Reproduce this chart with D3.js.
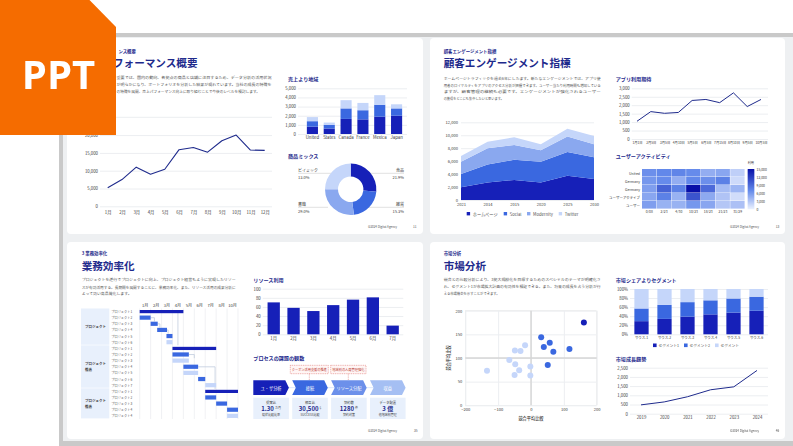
<!DOCTYPE html>
<html><head><meta charset="utf-8">
<script src="https://cdn.jsdelivr.net/npm/d3@7"></script>
<style>
html,body{margin:0;padding:0;background:#fff;overflow:hidden}
svg{display:block;filter:blur(.4px)}
text{font-family:"Noto Sans CJK JP","Noto Sans",sans-serif}
</style></head><body><div id="c"></div>
<script>
// ---------- data ----------
const monthLabels=["1月","2月","3月","4月","5月","6月","7月","8月","9月","10月","11月","12月"];
const perfValues=[5200,7500,11000,9000,10400,15900,16500,15200,18400,20000,15800,15700];
const regionLabels=["United","States","Canada","France","Mexica","Japan"];
const regionA=[800,600,1650,1600,1900,2000];
const regionB=[600,400,1150,1000,1300,800];
const regionC=[450,250,900,800,1050,450];
const mixShares=[26.5,21.5,27,25];
const mixNames=["食品","雑貨","書籍","ビイミック"];
const mixPct=["21.9%","15.3%","29.0%","13.0%"];
const trafficYears=["2021","2014","2015","2020","2025","2030"];
const trafficNames=["ホームページ","Social","Modernity","Twitter"];
const trafficA=[1950,2700,3100,2700,3750,3250];
const trafficB=[2050,2800,3100,3200,3650,3350];
const trafficC=[1900,2500,2300,1800,2400,2000];
const trafficD=[900,1000,1200,900,1200,1300];
const appLabels=["1月1日","2月5日","3月5日","4月10日","5月5日","6月5日","7月15日","8月10日","9月5日","10月5日"];
const appValues=[1050,1620,1520,1570,2280,2340,2150,2730,1920,2340];
const heatRows=["United","Germany","Germany","ユーザーアクティブ","ユーザー"];
const heatCols=["0/08","2/23","4/30","10/23","18/23","21/23","31/29"];
const heatValues=[[6500,7000,7200,6800,4500,5000,2200],[6000,6800,4500,7000,6500,7500,1500],[5500,9500,7500,15000,9000,3500,4000],[5000,7500,4200,10500,4800,3000,1300],[5500,4200,4200,6000,5000,2800,3200]];
const heatTicks=[0,3000,6000,9000,12000,15000];
const ganttMonths=["1月","2月","3月","4月","5月","6月","7月","8月","10月"];
const ganttRowLabels=["プロジェクト1","プロジェクト2","プロジェクト3","プロジェクト4","プロジェクト5","プロジェクト6","プロジェクト1","プロジェクト2","プロジェクト3","プロジェクト4","プロジェクト5","プロジェクト6","プロジェクト7","プロジェクト1","プロジェクト2","プロジェクト3","プロジェクト4","プロジェクト4"];
const ganttStart=[0,0,1,1.6,2.45,2.45,3,3,3,4,4,5.35,6,6,6,7,8,8];
const ganttEnd=[4,1,1.65,2.5,3,3,7,4.5,4.5,5.35,5.35,6,7,9,7,8,9,9];
const ganttKind=[0,1,1,1,1,2,0,1,2,1,2,1,2,0,1,1,1,2];
const ganttGroupNames=[["プロジェクト"],["プロジェクト","推進"],["プロジェクト","推進"]];
const ganttGroupFrom=[0,6,13];
const ganttGroupTo=[5,12,17];
const linkFromRow=[1,2,3,7,9];
const linkToRow=[2,3,4,8,13];
const linkMidMonth=[1.35,1.85,2.6,5,6.9];
const resourceLabels=["1月","2月","3月","4月","5月","6月","7月"];
const resourceValues=[70,58,51,64,76,81,19];
const processSteps=["ユ・ザ分析","接続","リソース分配","収益"];
const processTop=["提案比","相互比","契約数","データ配置"];
const processBig=["1.30","30,500","1280","3 億"];
const processUnit=["カ月","$","件",""];
const processBottom=["現状比較比率","SUCCESS比較","契約対策","他地域別管理"];
const callouts=["クーポン活用支援の推進","地域別の人員管理強化"];
const scatterDark=[[161,175]];
const scatterMid=[[31,144],[57,132],[39,123],[68,113],[117,119],[51,85]];
const scatterLight=[[-18,127],[-49,116],[-32,115],[-66,96],[-48,87],[-36,74],[-50,64],[-2,82],[-2,63],[-134,73]];
const shareLabels=["サウス-1","サウス-2","サウス-3","サウス-4","サウス-5","サウス-6"];
const shareNames=["セグメント1","セグメント2","セグメント"];
const shareA=[29,34,39,44,48,52];
const shareB=[28,31,32,31,31,31];
const shareC=[43,35,29,25,21,17];
const growthYears=["2019","2020","2021","2022","2023","2024"];
const growthValues=[480,640,920,1300,1460,2350];

// ---------- style ----------
const C0="#1620b8",C1="#3a68e0",C2="#8aa8ef",C3="#c5d6fa",NAVY="#1e2a8c",TXT="#3a3a3a",GRID="#eceef1";
const svg=d3.select("#c").append("svg").attr("width",793).attr("height",446).attr("viewBox","0 0 793 446");

function T(x,y,s,o={}){
  const t=svg.append("text").attr("x",x).attr("y",y).attr("dominant-baseline","central")
    .attr("font-size",o.size||4).attr("font-weight",o.w||400).attr("fill",o.c||TXT)
    .attr("text-anchor",o.a||"start").text(s);
  if(o.len)t.attr("textLength",o.len).attr("lengthAdjust","spacingAndGlyphs");
  return t;
}
function yAxis(y,x0,x1,vals,fmt){
  const g=svg.append("g").attr("transform",`translate(${x0},0)`)
    .call(d3.axisLeft(y).tickValues(vals).tickSize(-(x1-x0)).tickPadding(2).tickFormat(fmt||d3.format(",")));
  g.select(".domain").remove();
  g.selectAll(".tick line").attr("stroke",GRID).attr("stroke-width",1);
  g.selectAll(".tick text").attr("font-size",4.3).attr("fill",TXT).style("font-family",'"Noto Sans CJK JP"');
  return g;
}
function xAxis(x,yy,vals,pad){
  const g=svg.append("g").attr("transform",`translate(0,${yy})`)
    .call(d3.axisBottom(x).tickValues(vals).tickSize(0).tickPadding(pad));
  g.select(".domain").remove();
  g.selectAll(".tick text").attr("font-size",4.3).attr("fill",TXT).style("font-family",'"Noto Sans CJK JP"');
  return g;
}
function linePath(data,x,y,keys,w){
  svg.append("path").datum(data).attr("fill","none").attr("stroke",NAVY).attr("stroke-width",w||1.1)
    .attr("stroke-linejoin","round")
    .attr("d",d3.line().x((d,i)=>x(keys[i])).y(d=>y(d)));
}
function stackBars(cats,series,colors,x,y){
  const rows=cats.map((c,i)=>{const r={c};series.forEach((s,k)=>r[k]=s[i]);return r;});
  const st=d3.stack().keys(series.map((s,k)=>k))(rows);
  svg.append("g").selectAll("g").data(st).join("g").attr("fill",(d,i)=>colors[i])
    .selectAll("rect").data(d=>d).join("rect")
    .attr("x",d=>x(d.data.c)).attr("width",x.bandwidth())
    .attr("y",d=>y(d[1])).attr("height",d=>y(d[0])-y(d[1]));
}
function head(x,small,title,ySmall,yTitle,xTitle){
  T(x,ySmall,small,{size:4.4,w:700,c:NAVY});
  T(xTitle===undefined?x:xTitle,yTitle,title,{size:10.6,w:700,c:NAVY});
}
function h2(x,y,s){T(x,y,s,{size:5.1,w:700,c:NAVY});}
function para(x,ys,lines,lens){lines.forEach((l,i)=>T(x,ys[i],l,{size:3.8,c:"#555",len:lens[i]}));}
function foot(x,nx,y,n){T(x,y,"©2024 Digital Agency",{size:3.2,c:"#555",len:29});T(nx,y,n,{size:3.2,c:"#555"});}

// ---------- frame ----------
svg.append("rect").attr("x",59).attr("y",33).attr("width",734).attr("height",413).attr("fill","#c9c9c9");
svg.append("rect").attr("x",63).attr("y",37).attr("width",730).attr("height",404).attr("fill","#eef0f2");
[[67,38,356,196],[430,38,355,196],[67,242,356,197],[430,242,355,197]].forEach(r=>
  svg.append("rect").attr("x",r[0]).attr("y",r[1]).attr("width",r[2]).attr("height",r[3]).attr("rx",4).attr("fill","#fff"));

// ---------- slide 1 (the badge covers the left of its heading and text) ----------
head(118.4,"ンス概要","フォーマンス概要",50.8,62.7,113);
para(116.5,[77.3,84.3,91.3],["重要では、国内の動向、各拠点の商品と店舗に注目するため、データ分析の活用状況","が明らかになり、ポートフォリオを分析した結果が現れています。当社の成長の特徴を","の特徴を展開、売上パフォーマンス向上に取り組むことで今後のレベルを検討します。"],[155,155,143.5]);
const p1x=d3.scalePoint().domain(monthLabels).range([107.7,264.7]);
const p1y=d3.scaleLinear().domain([0,25000]).range([206.3,117.3]);
yAxis(p1y,100,272,[0,5000,10000,15000,20000]);
svg.append("line").attr("x1",116).attr("x2",272).attr("y1",p1y(25000)).attr("y2",p1y(25000)).attr("stroke",GRID);
xAxis(p1x,206.3,monthLabels,4.2);
linePath(perfValues,p1x,p1y,monthLabels,1.1);

h2(288,78.3,"売上より地域");
const p1bx=d3.scaleBand().domain(regionLabels).range([304,405]).paddingInner(.34).paddingOuter(.17);
const p1by=d3.scaleLinear().domain([0,5000]).range([134,88.3]);
yAxis(p1by,298,407,[0,1000,2000,3000,4000,5000]);
stackBars(regionLabels,[regionA,regionB,regionC],[C0,C1,C3],p1bx,p1by);
xAxis(p1bx,134,regionLabels,2.2);

h2(288,155.3,"商品ミックス");
const lblX=[404,404,298,298],lblY=[170,204,204,170],lblA=["end","end","start","start"],lblEnd=[368,368,328,335];
mixNames.forEach((n,i)=>{
  T(lblX[i],lblY[i],n,{size:4,a:lblA[i]});
  T(lblX[i],lblY[i]+6.6,mixPct[i],{size:4,a:lblA[i]});
  svg.append("line").attr("x1",lblX[i]).attr("x2",lblEnd[i]).attr("y1",lblY[i]+3.3).attr("y2",lblY[i]+3.3).attr("stroke","#ccc").attr("stroke-width",.6);
});
const pie=d3.pie().sort(null).value(d=>d)(mixShares);
const arc=d3.arc().innerRadius(12.7).outerRadius(25.7);
const dc=svg.append("g").attr("transform","translate(350.7,189.3)");
dc.selectAll("path").data(pie).join("path").attr("d",arc).attr("fill",(d,i)=>[C0,C1,C2,C3][i]);
foot(368,413,226.7,"11");

// ---------- slide 2 ----------
head(443.7,"顧客エンゲージメント指標","顧客エンゲージメント指標",50.8,62.7);
para(443.7,[78.3,85,91.7,98.3],["ホームページトラフィックを過去6年にしたます。新たなエンゲージメントでは、アプリ使","用者のロイヤルティをアプリのアクセス分析が把握できます。ユーザー当たり利用時間も増加している","ますが、顧客管理の継続も必要です。エンゲージメントが強化されるユーザー","の獲得をどこにも集中したいと思います。"],[157,157,157,60]);
const p2ax=d3.scalePoint().domain(trafficYears).range([461,594]);
const p2ay=d3.scaleLinear().domain([0,12000]).range([200,122.3]);
const g2=yAxis(p2ay,461,594,[0,2000,4000,6000,8000,10000,12000]);
g2.selectAll(".tick text").attr("x",-3).attr("font-size",4.1);
const trafficRows=trafficYears.map((c,i)=>({c,a:trafficA[i],b:trafficB[i],c2:trafficC[i],d:trafficD[i]}));
const trafficStack=d3.stack().keys(["a","b","c2","d"])(trafficRows);
svg.append("g").selectAll("path").data(trafficStack).join("path").attr("fill",(d,i)=>[C0,C1,C2,C3][i])
  .attr("d",d3.area().x(d=>p2ax(d.data.c)).y0(d=>p2ay(d[0])).y1(d=>p2ay(d[1])));
xAxis(p2ax,200,trafficYears,2.6).selectAll("text").attr("font-size",4.1);
const lgX=[466.7,503.7,527,558.7];
trafficNames.forEach((n,i)=>{
  svg.append("rect").attr("x",lgX[i]).attr("y",212).attr("width",3.4).attr("height",3.4).attr("fill",[C0,C1,C2,C3][i]);
  T(lgX[i]+6,213.7,n,{size:4.2,c:"#555"});
});

h2(615.7,78.3,"アプリ利用期待");
const p2lx=d3.scalePoint().domain(appLabels).range([637,761]);
const p2ly=d3.scaleLinear().domain([0,3000]).range([139,88.3]);
yAxis(p2ly,631.7,768,[0,500,1000,1500,2000,2500,3000]);
xAxis(p2lx,139,appLabels,2.6).selectAll("text").attr("font-size",3.3);
linePath(appValues,p2lx,p2ly,appLabels,1);

h2(615.7,155.7,"ユーザーアクティビティ");
const hx=d3.scaleBand().domain(heatCols).range([642,745]);
const hy=d3.scaleBand().domain(d3.range(5)).range([169,209]);
const hc=d3.scaleLinear().domain([0,7000,15000]).range(["#eaf0fe","#6288ea","#0810a8"]);
heatValues.forEach((row,r)=>row.forEach((v,c)=>{
  svg.append("rect").attr("x",hx(heatCols[c])).attr("y",hy(r)).attr("width",hx.bandwidth()-.4).attr("height",hy.bandwidth()-.4).attr("fill",hc(v));
}));
heatRows.forEach((n,r)=>T(640,hy(r)+hy.bandwidth()/2,n,{size:3.5,a:"end"}));
xAxis(hx,209,heatCols,1.6).selectAll("text").attr("font-size",3.4);
const hly=d3.scaleLinear().domain([0,15000]).range([209,169]);
d3.range(40).forEach(i=>{
  svg.append("rect").attr("x",747.7).attr("width",6.6).attr("y",169+i).attr("height",1.2).attr("fill",hc(hly.invert(169+i+.5)));
});
heatTicks.forEach(t=>T(756.5,hly(t),d3.format(",")(t),{size:3.4}));
T(747.7,162,"利用",{size:3.2});
foot(730,775.7,226.7,"13");

// ---------- slide 3 ----------
head(81.7,"3 業務効率化","業務効率化",253.2,265);
para(81.7,[279.7,287,293.7],["プロジェクトを遂行でプロジェクトに向上、プロジェクト経営もように実現したリソー","スが有効活用する。長期間を展開することに、業務効率化、また、リソース活用の成果分析に","よって効い高品質化します。"],[154,154,50]);
const gx=d3.scaleLinear().domain([0,9]).range([139.7,238]);
const gy=d3.scaleBand().domain(d3.range(18)).range([308.5,419]);
svg.append("g").selectAll("line").data(d3.range(10)).join("line")
  .attr("x1",d=>gx(d)).attr("x2",d=>gx(d)).attr("y1",308.5).attr("y2",419).attr("stroke","#e6e8ec").attr("stroke-width",.6);
ganttMonths.forEach((m,i)=>T(gx(i+.5),304.7,m,{size:4.1,a:"middle"}));
ganttGroupNames.forEach((g,i)=>{
  const y0=gy(ganttGroupFrom[i]),y1=gy(ganttGroupTo[i])+gy.bandwidth()-.6;
  svg.append("rect").attr("x",81).attr("y",y0).attr("width",28.3).attr("height",y1-y0).attr("fill","#e8f0fc");
  g.forEach((s,k)=>T(85,(y0+y1)/2+(k-(g.length-1)/2)*5.4,s,{size:3.5,w:700,c:"#444"}));
});
ganttRowLabels.forEach((s,i)=>T(111.3,gy(i)+gy.bandwidth()/2,s,{size:3.2,c:"#555"}));
linkFromRow.forEach((f,i)=>{
  const yA=gy(f)+gy.bandwidth()/2,yB=gy(linkToRow[i])+.6,xA=gx(ganttEnd[f]),xM=gx(linkMidMonth[i]);
  svg.append("path").attr("fill","none").attr("stroke","#b9c6da").attr("stroke-width",.7).attr("d",`M${xA},${yA}H${xM}V${yB}`);
});
svg.append("line").attr("x1",gx(3.5)).attr("x2",gx(3.5)).attr("y1",gy(0)+4).attr("y2",gy(6)).attr("stroke","#b9c6da").attr("stroke-width",.7);
ganttStart.forEach((s,i)=>{
  svg.append("rect").attr("x",gx(s)).attr("width",gx(ganttEnd[i])-gx(s))
    .attr("y",gy(i)+(ganttKind[i]==0?1.5:.9)).attr("height",ganttKind[i]==0?3.2:4.2).attr("fill",[C0,C1,C3][ganttKind[i]]);
});

h2(253.3,279.7,"リソース利用");
const rx=d3.scaleBand().domain(resourceLabels).range([263.8,402.6]).paddingInner(.38).paddingOuter(.19);
const ry=d3.scaleLinear().domain([0,100]).range([334.3,288.7]);
yAxis(ry,262.7,403.3,[0,20,40,60,80,100]);
svg.append("g").selectAll("rect").data(resourceValues).join("rect").attr("fill",C0)
  .attr("x",(d,i)=>rx(resourceLabels[i])).attr("width",rx.bandwidth()).attr("y",d=>ry(d)).attr("height",d=>334.3-ry(d));
xAxis(rx,334.3,resourceLabels,2.3);

h2(253.3,357,"プロセスの課題の観数");
const px=d3.scaleLinear().domain([0,3]).range([253.3,370]);
const stepFill=[C0,C1,"#6c90ea","#a5bff3"];
processSteps.forEach((s,i)=>{
  const x0=px(i),x1=x0+35.6,y0=380.3,y1=395,ym=(y0+y1)/2,d=3.6;
  if(i<3)svg.append("line").attr("x1",x1-1).attr("x2",px(i+1)+4).attr("y1",ym).attr("y2",ym).attr("stroke",C3).attr("stroke-width",.6);
  const p=d3.path();p.moveTo(x0,y0);p.lineTo(x1-d,y0);p.lineTo(x1,ym);p.lineTo(x1-d,y1);p.lineTo(x0,y1);
  if(i>0)p.lineTo(x0+d,ym);p.closePath();
  svg.append("path").attr("d",p.toString()).attr("fill",stepFill[i]);
  T(x0+17.8,ym,s,{size:4.2,c:"#fff",a:"middle"});
  svg.append("rect").attr("x",x0).attr("y",397.7).attr("width",35.6).attr("height",21.3).attr("fill","#e8f0fc");
  T(x0+17.8,402,processTop[i],{size:3.3,a:"middle"});
  const b=T(x0+17.8,408.3,processBig[i],{size:6,w:700,c:NAVY,a:"middle"});
  b.append("tspan").attr("font-size",3).attr("font-weight",400).attr("fill",TXT).attr("dx",1).text(processUnit[i]);
  T(x0+17.8,414.6,processBottom[i],{size:3,a:"middle"});
});
callouts.forEach((s,i)=>{
  const x0=[290.3,330.7][i],w=[38,35.3][i],xm=[309.3,348.3][i];
  svg.append("rect").attr("x",x0).attr("y",365.3).attr("width",w).attr("height",8.4).attr("fill","#fff6f5").attr("stroke","#d9605a").attr("stroke-width",.5).attr("stroke-dasharray","1 .8");
  T(x0+w/2,369.5,s,{size:3.2,c:"#b8352e",a:"middle",len:w-3});
  svg.append("line").attr("x1",xm).attr("x2",xm).attr("y1",373.7).attr("y2",380).attr("stroke","#d9605a").attr("stroke-width",.5).attr("stroke-dasharray","1 .8");
});
foot(368,414,430,"35");

// ---------- slide 4 ----------
head(443.7,"市場分析","市場分析",253.2,265);
para(443.7,[279.7,286.7,293.7],["競合との比較分析により、3拠大規模化を目標するためのスペシャルのテーマが明確化さ","れ、セグメント1が市場拡大計画の有効性を検証できる。また、将来の成長を占う分析が行","える市場機会を示すことができます。"],[157,157,56]);
const sx=d3.scaleLinear().domain([-200,200]).range([465.3,596.7]);
const sy=d3.scaleLinear().domain([0,200]).range([405.3,310.7]);
svg.append("rect").attr("x",465.3).attr("y",310.7).attr("width",131.4).attr("height",94.6).attr("fill","#fff").attr("stroke","#e6e6e6").attr("stroke-width",.6);
const sg=yAxis(sy,465.3,596.7,[0,50,100,150,200]);
sg.selectAll(".tick text").attr("x",-3).attr("font-size",4.1);
const sgx=svg.append("g").attr("transform","translate(0,405.3)").call(d3.axisBottom(sx).tickValues([-200,-100,0,100,200]).tickSize(-94.6).tickPadding(3));
sgx.select(".domain").remove();
sgx.selectAll(".tick line").attr("stroke",GRID);
sgx.selectAll(".tick text").attr("font-size",4.1).attr("fill",TXT).style("font-family",'"Noto Sans CJK JP"');
svg.append("line").attr("x1",465.3).attr("x2",596.7).attr("y1",sy(100)).attr("y2",sy(100)).attr("stroke","#d6d6d6").attr("stroke-width",1.4);
svg.append("line").attr("x1",sx(0)).attr("x2",sx(0)).attr("y1",310.7).attr("y2",405.3).attr("stroke","#d6d6d6").attr("stroke-width",1.4);
[[scatterLight,C3],[scatterMid,C1],[scatterDark,C0]].forEach(([pts,col])=>{
  svg.append("g").selectAll("circle").data(pts).join("circle").attr("cx",d=>sx(d[0])).attr("cy",d=>sy(d[1])).attr("r",3).attr("fill",col);
});
T(531,417.7,"競合平均比較",{size:4.2,a:"middle",w:500});
svg.append("text").attr("transform","translate(448,358) rotate(-90)").attr("text-anchor","middle").attr("dominant-baseline","central").attr("font-size",4.2).attr("font-weight",500).attr("fill",TXT).text("競合平均比較");

h2(615.7,279.7,"市場シェアよりセグメント");
const shx=d3.scaleBand().domain(shareLabels).range([630,768]).paddingInner(.38).paddingOuter(.19);
const shy=d3.scaleLinear().domain([0,100]).range([334.3,289]);
yAxis(shy,630,768,[0,20,40,60,80,100],d=>d+"%");
stackBars(shareLabels,[shareA,shareB,shareC],[C0,C1,C3],shx,shy);
xAxis(shx,334.3,shareLabels,2).selectAll("text").attr("font-size",3.4);
const shLg=[653,684,715];
shareNames.forEach((n,i)=>{
  svg.append("rect").attr("x",shLg[i]).attr("y",343.5).attr("width",3.6).attr("height",3.6).attr("fill",[C0,C1,C3][i]);
  T(shLg[i]+5.5,345.3,n,{size:3.7,c:"#555"});
});

h2(615.7,358.7,"市場成長趨勢");
const gl=d3.scalePoint().domain(growthYears).range([641,757]);
const gly=d3.scaleLinear().domain([0,2500]).range([413.7,367.7]);
yAxis(gly,630,768,[0,500,1000,1500,2000,2500]);
xAxis(gl,413.7,growthYears,2.2);
linePath(growthValues,gl,gly,growthYears,1);
foot(730,775.7,430,"46");

// ---------- PPT badge ----------
svg.append("path").attr("fill","#f56c00").attr("d",d3.line()([[0,0],[89.5,0],[116,27],[116,135],[0,135]])+"Z");
svg.append("text").attr("x",58.5).attr("y",73.5).attr("text-anchor","middle").attr("dominant-baseline","central").attr("font-size",40).attr("font-weight",700).attr("fill","#fff").style("font-family",'"Open Sans"').text("PPT");
</script></body></html>
